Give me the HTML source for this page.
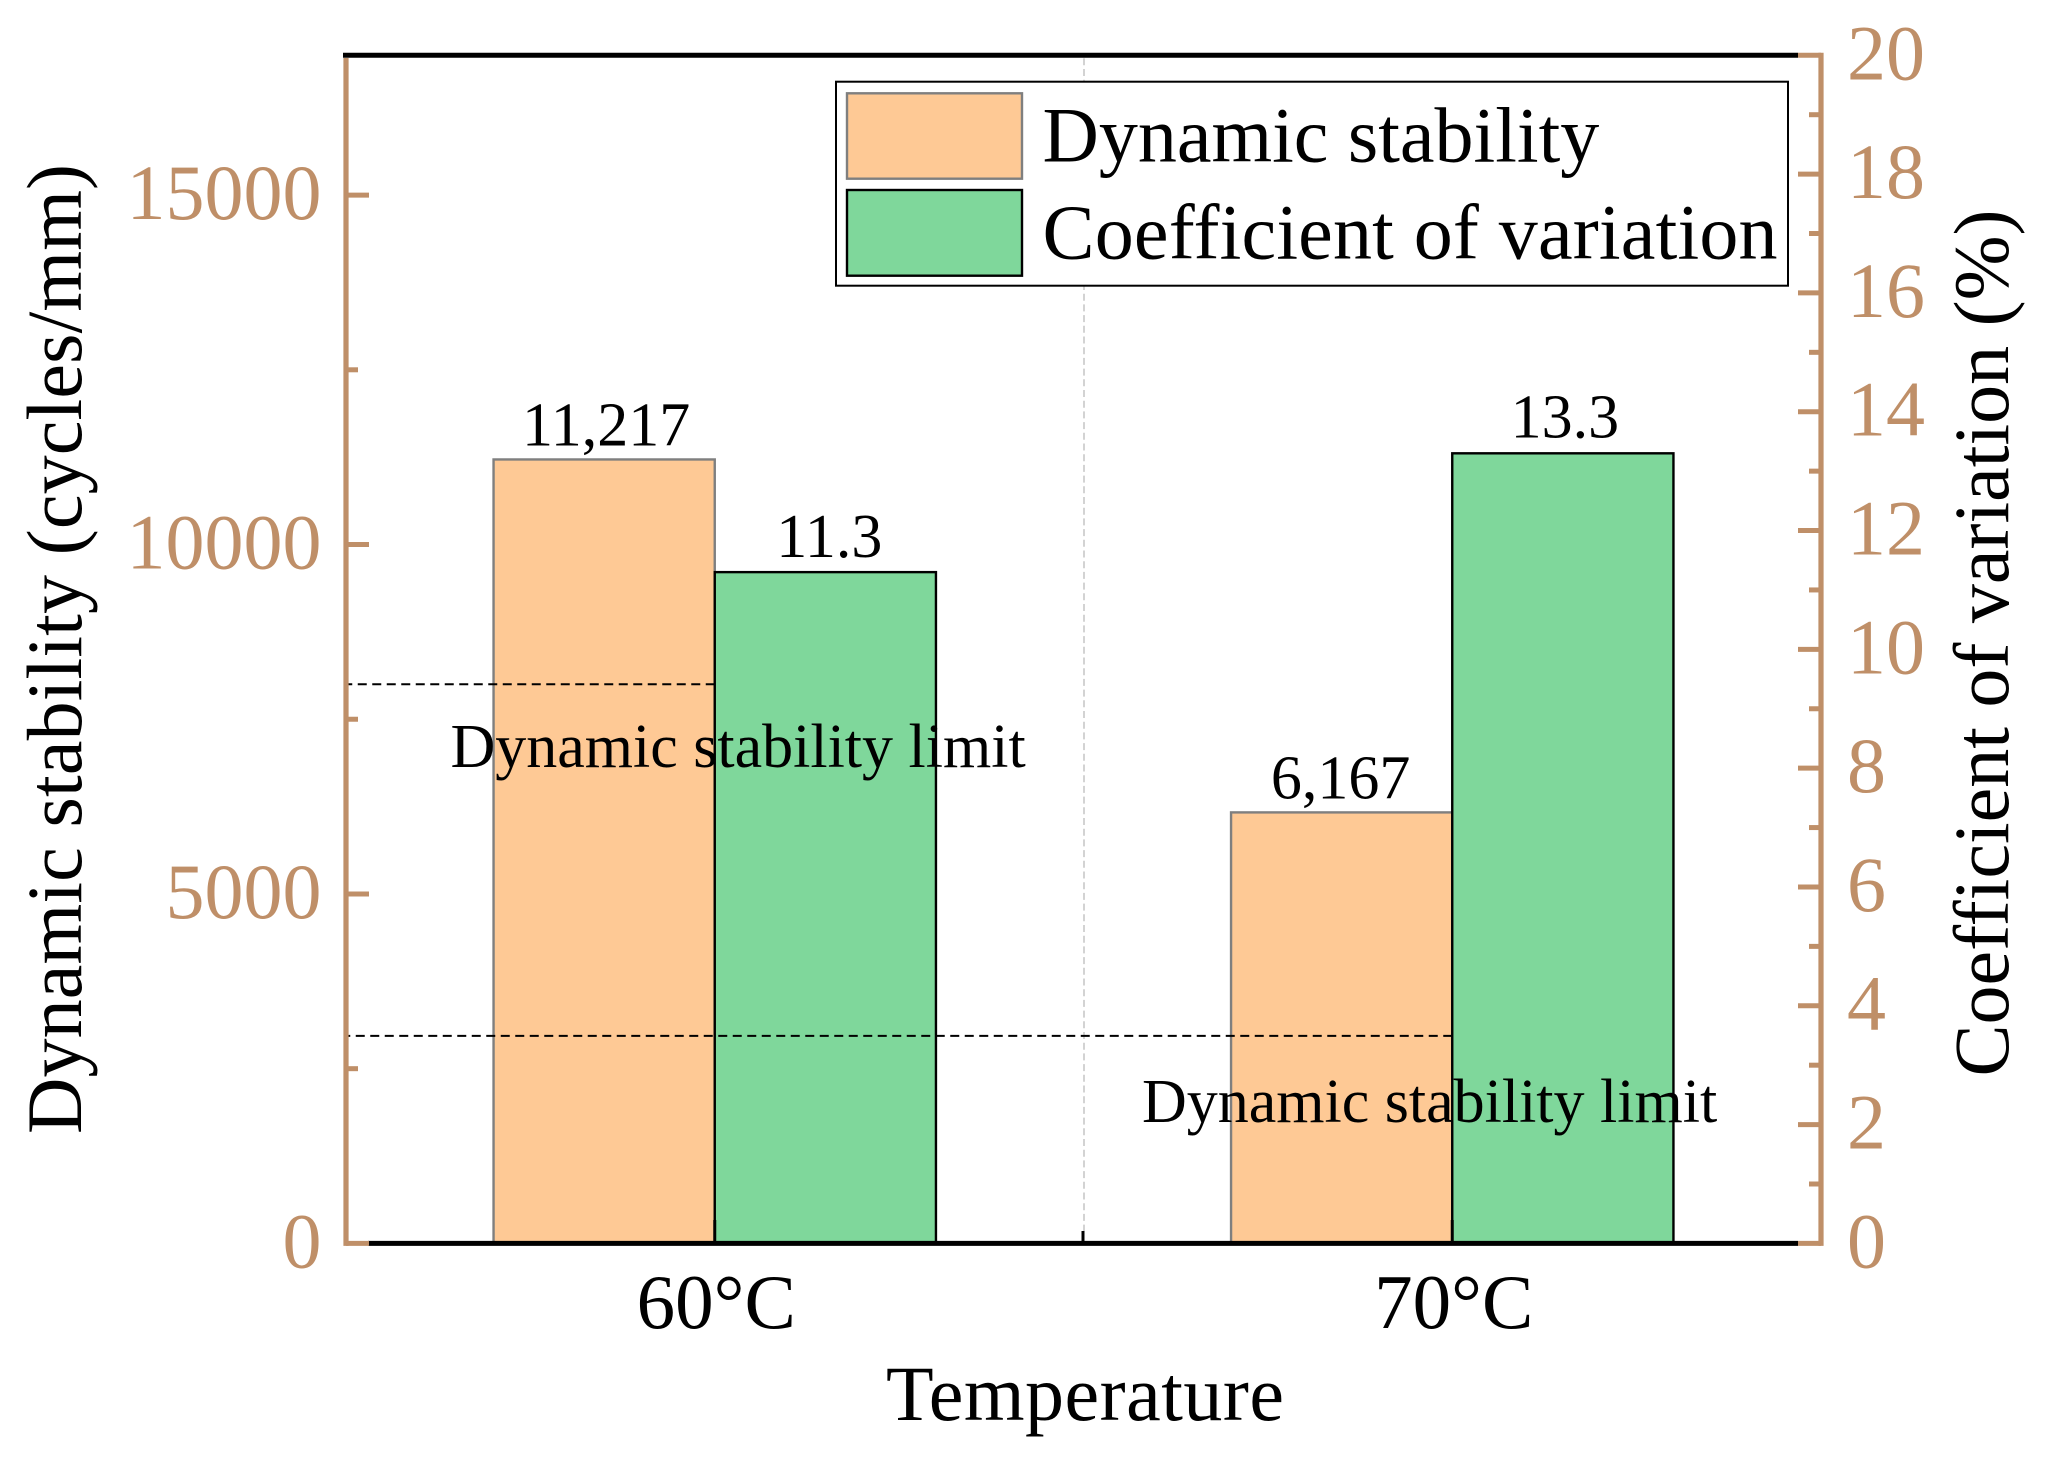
<!DOCTYPE html>
<html lang="en">
<head>
<meta charset="utf-8">
<title>Dynamic stability and coefficient of variation</title>
<style>
html,body{margin:0;padding:0;background:#fff;width:2055px;height:1462px;overflow:hidden}
svg{display:block}
text{font-family:"Liberation Serif","Times New Roman",serif;fill:#000}
</style>
</head>
<body>
<svg id="chart" xmlns="http://www.w3.org/2000/svg" width="2055" height="1462" viewBox="0 0 2055 1462"></svg>
<script>
const categories = ['60°C', '70°C'];
const stabilityValues = [11217, 6167];
const variationValues = [11.3, 13.3];
const stabilityLabels = ['11,217', '6,167'];
const variationLabels = ['11.3', '13.3'];
const stabilityLimits = [8000, 2970];
const limitLabels = ['Dynamic stability limit', 'Dynamic stability limit'];
const leftMajorTicks = [0, 5000, 10000, 15000];
const leftMinorTicks = [2500, 7500, 12500];
const rightMajorTicks = [0, 2, 4, 6, 8, 10, 12, 14, 16, 18, 20];
const rightMinorTicks = [1, 3, 5, 7, 9, 11, 13, 15, 17, 19];
const leftMax = 17000;
const rightMax = 20;

const svg = document.getElementById('chart');
const NS = 'http://www.w3.org/2000/svg';
const BROWN = '#bf8f68', ORANGE = '#fec995', GREEN = '#7fd79b', GRAY = '#7f7f7f';
const plot = {left: 346, right: 1821, top: 55.3, bottom: 1243.4};
const bandW = (plot.right - plot.left) / categories.length;
const barW = 221.2;

function xCat(i){ return plot.left + bandW * (i + 0.5); }
function xSep(i){ return plot.left + bandW * i; }
function yLeft(v){ return plot.bottom - (v / leftMax) * (plot.bottom - plot.top); }
function yRight(v){ return plot.bottom - (v / rightMax) * (plot.bottom - plot.top); }

function make(tag, attrs, parent){
  const el = document.createElementNS(NS, tag);
  for (const k in attrs) el.setAttribute(k, attrs[k]);
  (parent || svg).appendChild(el);
  return el;
}
function line(x1, y1, x2, y2, stroke, w, extra){
  return make('line', Object.assign({x1, y1, x2, y2, stroke, 'stroke-width': w}, extra || {}));
}
function label(str, x, y, size, extra){
  const t = make('text', Object.assign({x, y, 'font-size': size}, extra || {}));
  t.textContent = str;
  return t;
}

/* centre separator */
const sep = line(xSep(1) + 0.5, plot.top + 3, xSep(1) + 0.5, 1231, '#d3d3d3', 2, {'stroke-dasharray': '7 3.7'});



/* bars */
categories.forEach(function(cat, i){
  const c = xCat(i);
  const yA = yLeft(stabilityValues[i]);
  const a = make('rect', {x: c - barW, y: yA, width: barW, height: plot.bottom - yA, fill: ORANGE, stroke: GRAY, 'stroke-width': 2.4});
  
  
  const yB = yRight(variationValues[i]);
  const b = make('rect', {x: c, y: yB, width: barW, height: plot.bottom - yB, fill: GREEN, stroke: '#000', 'stroke-width': 2.4});
  
  
});

/* limit lines: drawn from the bar toward the axis so each ends on a full dash at the bar */
stabilityLimits.forEach(function(v, i){
  const y = yLeft(v);
  const l = line(xCat(i), y, plot.left, y, '#000', 2, {'stroke-dasharray': '9 5.5'});
  
  
});

/* x axis and top frame */
const topFrame = line(343, plot.top, 1798, plot.top, '#000', 5);


const xAxis = line(368, plot.bottom, 1798, plot.bottom, '#000', 5);


categories.forEach(function(cat, i){
  const tk = line(xCat(i), 1220, xCat(i), plot.bottom, '#000', 3);
  
  
  const t = label(cat, xCat(i) + 1.5, 1328, 77, {'text-anchor': 'middle'});
  
  
});
const midTick = line(xSep(1) - 0.5, 1231, xSep(1) - 0.5, plot.bottom, '#000', 3);



/* left axis */
const leftAxis = line(plot.left, 58, plot.left, plot.bottom + 2.5, BROWN, 5.2);


leftMajorTicks.forEach(function(v){
  const y = yLeft(v);
  const tk = line(plot.left, y, 369, y, BROWN, 5);
  
  
  const t = label(String(v), 321.5, y + 24, 78, {'text-anchor': 'end', style: 'fill:' + BROWN});
  
  
});
leftMinorTicks.forEach(function(v){
  const y = yLeft(v);
  const tk = line(plot.left, y, 358, y, BROWN, 5);
  
  
});

/* right axis */
const rightAxis = line(plot.right, plot.top - 2.5, plot.right, plot.bottom + 2.5, BROWN, 5.2);


rightMajorTicks.forEach(function(v){
  const y = yRight(v);
  const tk = line(1798, y, plot.right, y, BROWN, 5);
  
  
  const t = label(String(v), 1847, y + 24, 78, {style: 'fill:' + BROWN});
  
  
});
rightMinorTicks.forEach(function(v){
  const y = yRight(v);
  const tk = line(1809, y, plot.right, y, BROWN, 5);
  
  
});

/* value labels */
categories.forEach(function(cat, i){
  const a = label(stabilityLabels[i], xCat(i) - barW / 2 + 2 - 3 * i, yLeft(stabilityValues[i]) - 14, 62, {'text-anchor': 'middle'});
  
  
  const b = label(variationLabels[i], xCat(i) + barW / 2 + 4 - 2 * i, yRight(variationValues[i]) - 15 - i, 62, {'text-anchor': 'middle'});
  
  
});

/* limit labels */
const limitA = label(limitLabels[0], 450.5, 767, 62);


const limitB = label(limitLabels[1], 1142, 1122, 62);



/* axis titles */
const xTitle = label('Temperature', 1085, 1420, 78, {'text-anchor': 'middle', textLength: 398});


const yTitleL = label('Dynamic stability (cycles/mm)', 0, 0, 78, {'text-anchor': 'middle', textLength: 970, transform: 'translate(81,649) rotate(-90)'});


const yTitleR = label('Coefficient of variation (%)', 0, 0, 78, {'text-anchor': 'middle', transform: 'translate(2008,643) rotate(-90)'});



/* legend */
const legendBox = make('rect', {x: 836, y: 81.7, width: 952, height: 204, fill: '#fff', stroke: '#000', 'stroke-width': 2});


const swatchA = make('rect', {x: 847, y: 93.3, width: 175, height: 85.4, fill: ORANGE, stroke: GRAY, 'stroke-width': 2.4});


const swatchB = make('rect', {x: 847, y: 190, width: 175, height: 85.7, fill: GREEN, stroke: '#000', 'stroke-width': 2.4});


const legendA = label('Dynamic stability', 1042.5, 161.5, 78);


const legendB = label('Coefficient of variation', 1042.5, 258.5, 78, {textLength: 735});


</script>
</body>
</html>
